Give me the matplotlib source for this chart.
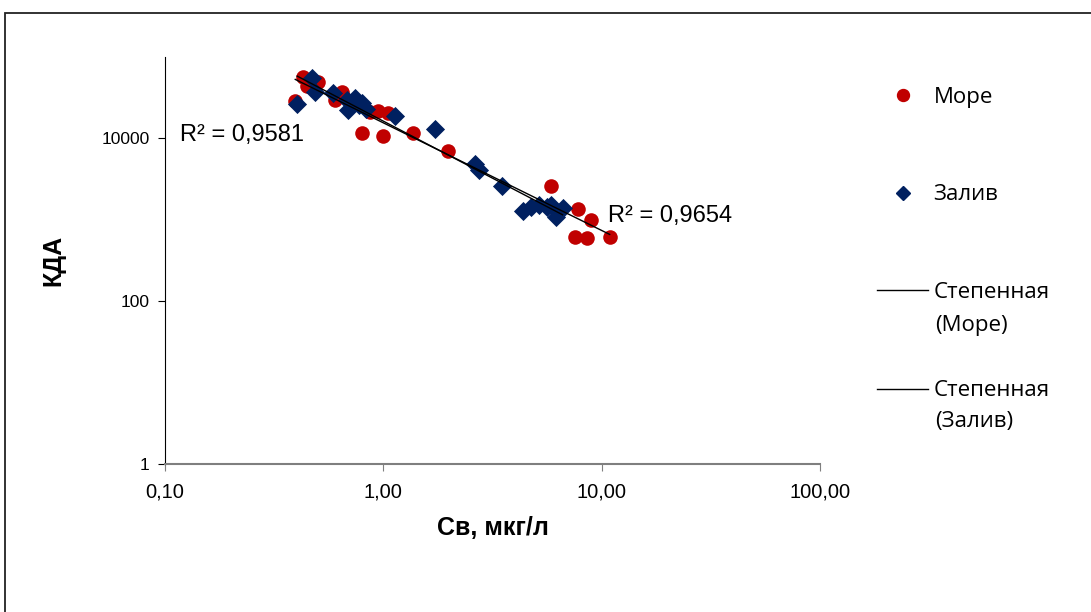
import matplotlib.pyplot as plt
import numpy as np
from matplotlib.lines import Line2D
from matplotlib.patches import Rectangle
from matplotlib.ticker import FixedLocator, NullLocator

# Море (red circles)
more_x = [0.395, 0.430, 0.448, 0.503, 0.602, 0.649, 0.801, 0.872, 0.95, 1.054,
          1.00, 1.373, 1.987, 5.84, 7.76, 8.90, 7.52, 8.54, 10.88]
more_y = [28400, 56000, 43400, 48600, 29300, 36600, 11500, 20800, 21500, 20300,
          10590, 11500, 6925, 2577, 1345, 986, 610, 593, 610]

# Залив (navy diamonds)
zaliv_x = [0.403, 0.472, 0.488, 0.590, 0.680, 0.744, 0.801, 0.691, 0.77, 0.83,
           1.135, 1.732, 2.64, 2.73, 3.51, 4.34, 4.77, 5.14, 5.59, 5.84, 6.15, 6.62]
zaliv_y = [26100, 54500, 36600, 35700, 29300, 31000, 26900, 22000, 25300, 23000,
           18600, 12900, 4800, 4050, 2577, 1271, 1423, 1506, 1423, 1506, 1073, 1384]

r2_labels = ["R² = 0,9581", "R² = 0,9654"]
x_ticks = [0.1, 1, 10, 100]
x_ticklabels = ["0,10", "1,00", "10,00", "100,00"]
y_ticks = [1, 100, 10000]
y_ticklabels = ["1", "100", "10000"]

red = "#C00000"
navy = "#002060"

fig = plt.figure(figsize=(10.91, 6.12), dpi=100)
fig.patches.append(Rectangle((5 / 1091, -0.1), 1.2, 1 - 13 / 612 + 0.1,
                             transform=fig.transFigure, fill=False,
                             edgecolor="#222222", linewidth=1.3))

ax = fig.add_axes([165 / 1091, 1 - 464 / 612, (820 - 165) / 1091, (464 - 56.5) / 612])
ax.set_xscale("log")
ax.set_yscale("log")
ax.set_xlim(0.1, 100)
ax.set_ylim(1, 100000)

ax.scatter(more_x, more_y, s=110, marker="o", color=red, linewidths=0, zorder=3)
ax.scatter(zaliv_x, zaliv_y, s=95, marker="D", color=navy, linewidths=0, zorder=3)

# power trend lines fitted in log space
for xs, ys in [(more_x, more_y), (zaliv_x, zaliv_y)]:
    lx, ly = np.log10(xs), np.log10(ys)
    b, a = np.polyfit(lx, ly, 1)
    xx = np.linspace(lx.min(), lx.max(), 50)
    ax.plot(10 ** xx, 10 ** (a + b * xx), color="black", lw=1, zorder=4)

ax.text(0.117, 11000, r2_labels[0], fontsize=17, family="Liberation Sans",
        va="center", ha="left")
ax.text(10.65, 1100, r2_labels[1], fontsize=17, family="Liberation Sans",
        va="center", ha="left", zorder=5)

for s in ["top", "right"]:
    ax.spines[s].set_visible(False)
ax.spines["left"].set_color("black")
ax.spines["bottom"].set_color("#7f7f7f")
ax.spines["bottom"].set_linewidth(1.5)

ax.xaxis.set_major_locator(FixedLocator(x_ticks))
ax.xaxis.set_minor_locator(NullLocator())
ax.yaxis.set_major_locator(FixedLocator(y_ticks))
ax.yaxis.set_minor_locator(NullLocator())
ax.set_xticklabels(x_ticklabels, fontsize=14.5, family="Liberation Sans")
ax.set_yticklabels(y_ticklabels, fontsize=12.5, family="Liberation Sans")
ax.tick_params(axis="x", direction="out", length=5, color="#7f7f7f", pad=8)
ax.tick_params(axis="y", direction="out", length=5, color="black", pad=6)

ax.set_xlabel("Св, мкг/л", fontsize=18, fontweight="bold", family="Liberation Sans", labelpad=11)
ax.set_ylabel("КДА", fontsize=18, fontweight="bold", family="Liberation Sans", labelpad=26)

# legend: one entry per block, second line of trend labels as text
handles = [
    Line2D([], [], ls="none", marker="o", color=red, markersize=8.6),
    Line2D([], [], ls="none", marker="D", color=navy, markersize=7),
    Line2D([], [], color="black", lw=1),
    Line2D([], [], color="black", lw=1),
]
labels = ["Море", "Залив", "Степенная", "Степенная"]
centers = [97, 195, 292, 391]
for h, lab, yc in zip(handles, labels, centers):
    fig.legend([h], [lab], loc="center left", bbox_to_anchor=(877 / 1091, 1 - yc / 612),
               frameon=False, prop={"family": "Open Sans", "size": 16},
               handlelength=2.3, handletextpad=0.25, borderpad=0, borderaxespad=0)
for lab, yc in [("(Море)", 325), ("(Залив)", 422)]:
    fig.text(935 / 1091, 1 - yc / 612, lab, family="Open Sans", fontsize=16,
             ha="left", va="center")

fig.savefig("out.png", dpi=100)
